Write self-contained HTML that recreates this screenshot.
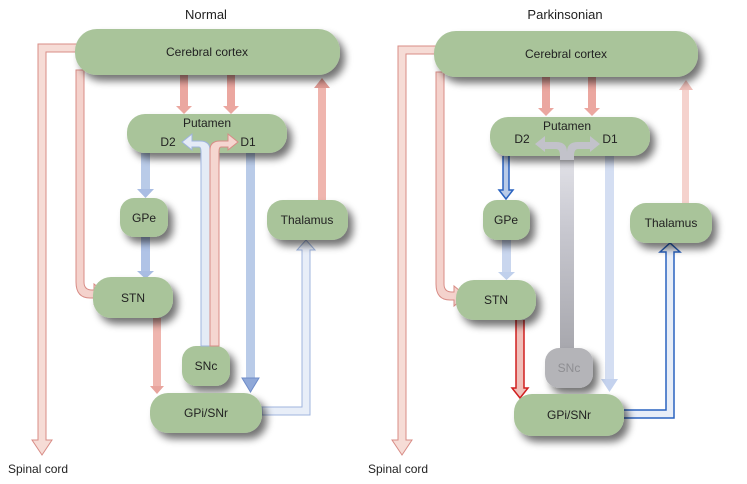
<!DOCTYPE html>
<html><head><meta charset="utf-8"><style>
html,body{margin:0;padding:0;background:#fff;}
svg{display:block;font-family:"Liberation Sans",sans-serif;}
</style></head><body>
<svg width="747" height="484" viewBox="0 0 747 484" xmlns="http://www.w3.org/2000/svg">
<defs>
<filter id="sh" x="-20%" y="-20%" width="150%" height="160%">
<feGaussianBlur in="SourceAlpha" stdDeviation="4"/><feOffset dx="5" dy="6"/>
<feComponentTransfer><feFuncA type="linear" slope="0.55"/></feComponentTransfer>
<feMerge><feMergeNode/><feMergeNode in="SourceGraphic"/></feMerge></filter>
<linearGradient id="gg" x1="0" y1="1" x2="0" y2="0">
<stop offset="0" stop-color="#a8a8ae"/><stop offset="0.6" stop-color="#c8c8d0"/><stop offset="1" stop-color="#e4e4ea"/></linearGradient>
</defs>
<g font-size="12" fill="#222">
<text x="206" y="19" font-size="13" text-anchor="middle">Normal</text>
<text x="565" y="19" font-size="13" text-anchor="middle">Parkinsonian</text>
<text x="8" y="473">Spinal cord</text>
<text x="368" y="473">Spinal cord</text>
</g>

<!-- LEFT arrows -->
<g stroke-width="1">
<path d="M80 44 H38 V440 H32 L42 455 L52 440 H46 V52 H80 Z" fill="#f6dcd6" stroke="#d88c86"/>
<path d="M84 70 V282 Q84 290 92 290 H94 V284 L106 294 L94 304 V298 H90 Q76 298 76 282 V70 Z" fill="#f4d2cc" stroke="#d88c86"/>
<rect x="180" y="75" width="8" height="33" fill="#eba7a0"/><path d="M176 106 H192 L184 114 Z" fill="#eba7a0"/>
<rect x="227" y="75" width="8" height="33" fill="#eba7a0"/><path d="M223 106 H239 L231 114 Z" fill="#eba7a0"/>
<rect x="318" y="86" width="8" height="116" fill="#efb5ae"/><path d="M314 88 H330 L322 78 Z" fill="#e09a93"/>
<rect x="141" y="153" width="9" height="38" fill="#b9cbe8"/><path d="M137 189 H154 L145.5 198 Z" fill="#a9bde3"/>
<rect x="141" y="237" width="9" height="36" fill="#b0c3e6"/><path d="M137 271 H154 L145.5 279 Z" fill="#a9bde3"/>
<rect x="246" y="153" width="9" height="227" fill="#b9cbe8"/><path d="M242 378 H259 L250.5 392 Z" fill="#8fa8d8" stroke="#6f8cc8"/>
<rect x="153" y="318" width="8" height="70" fill="#efb5ae"/><path d="M150 386 H164 L157 394 Z" fill="#e8a49d"/>
<path d="M262 407 H302 V250 H297 L306 240 L315 250 H310 V415 H262 Z" fill="#e8eef8" stroke="#9fb4de"/>
</g>

<!-- RIGHT arrows -->
<g stroke-width="1">
<path d="M440 46 H398 V440 H392 L402 455 L412 440 H406 V54 H440 Z" fill="#f6dcd6" stroke="#d88c86"/>
<path d="M444 72 V284 Q444 292 452 292 H454 V286 L466 296 L454 306 V300 H450 Q436 300 436 284 V72 Z" fill="#f4d2cc" stroke="#d88c86"/>
<rect x="542" y="77" width="8" height="33" fill="#eba7a0"/><path d="M538 108 H554 L546 116 Z" fill="#eba7a0"/>
<rect x="588" y="77" width="8" height="33" fill="#eba7a0"/><path d="M584 108 H600 L592 116 Z" fill="#eba7a0"/>
<rect x="682" y="88" width="7" height="116" fill="#f5d2cd"/><path d="M679 90 H693 L686 80 Z" fill="#efc0ba"/>
<path d="M503 156 V190 H499 L506 199 L513 190 H509 V156" fill="#b9cbe8" stroke="#2a63c0" stroke-width="1.5"/>
<rect x="502" y="240" width="9" height="34" fill="#c9d6ee"/><path d="M498 272 H515 L506.5 280 Z" fill="#c0d0ec"/>
<rect x="605" y="156" width="9" height="225" fill="#d4def2"/><path d="M601 379 H618 L609.5 392 Z" fill="#c4d2ee"/>
<rect x="560" y="150" width="14" height="198" fill="url(#gg)"/>
<path d="M516 320 V388 H512 L520 398 L528 388 H524 V320" fill="#f0c0ba" stroke="#d02020" stroke-width="1.5"/>
<path d="M624 410 H666 V252 H660 L670 243 L680 252 H674 V418 H624" fill="#e8eef8" stroke="#2a63c0" stroke-width="1.5"/>
</g>

<!-- NODES -->
<g fill="#a9c49a" filter="url(#sh)">
<rect x="75" y="29" width="265" height="46" rx="22"/>
<rect x="127" y="114" width="160" height="39" rx="18"/>
<rect x="120" y="198" width="48" height="39" rx="14"/>
<rect x="267" y="200" width="81" height="40" rx="16"/>
<rect x="93" y="277" width="80" height="41" rx="18"/>
<rect x="182" y="346" width="48" height="40" rx="14"/>
<rect x="150" y="393" width="112" height="40" rx="18"/>

<rect x="434" y="31" width="264" height="46" rx="22"/>
<rect x="490" y="117" width="160" height="39" rx="18"/>
<rect x="483" y="200" width="47" height="40" rx="14"/>
<rect x="630" y="203" width="82" height="40" rx="16"/>
<rect x="456" y="280" width="80" height="40" rx="18"/>
<rect x="545" y="348" width="48" height="40" rx="14" fill="#b4b4b8"/>
<rect x="514" y="394" width="110" height="42" rx="18"/>
</g>

<!-- SNc arrows drawn over putamen (left) -->
<g stroke-width="1">
<path d="M210 346 V150 Q210 141 200 141 H192 V134 L182 142 L192 150 V147 H199 Q201 147 201 152 V346 Z" fill="#e4ebf6" stroke="#9fb4de"/>
<path d="M210 346 V150 Q210 141 220 141 H228 V134 L238 142 L228 150 V147 H221 Q219 147 219 152 V346 Z" fill="#f5d6d0" stroke="#d88c86"/>
<rect x="210.5" y="150" width="0.1" height="196" fill="none"/>
</g>
<!-- gray arrows (right) -->
<path d="M567 160 V152 Q567 142 556 142 H545 V136 L535 144 L545 152 V149 H556 Q560 149 560 156 V160 H574 V156 Q574 149 578 149 H590 V152 L600 144 L590 136 V142 H578 Q567 142 567 152" fill="#c2c2ca"/>

<g font-size="12" fill="#222" text-anchor="middle">
<text x="207" y="56">Cerebral cortex</text>
<text x="207" y="127">Putamen</text>
<text x="168" y="146">D2</text><text x="248" y="146">D1</text>
<text x="144" y="222">GPe</text>
<text x="307" y="224">Thalamus</text>
<text x="133" y="302">STN</text>
<text x="206" y="370">SNc</text>
<text x="206" y="417">GPi/SNr</text>

<text x="566" y="58">Cerebral cortex</text>
<text x="567" y="130">Putamen</text>
<text x="522" y="143">D2</text><text x="610" y="143">D1</text>
<text x="506" y="224">GPe</text>
<text x="671" y="227">Thalamus</text>
<text x="496" y="304">STN</text>
<text x="569" y="372" fill="#8e8e92">SNc</text>
<text x="569" y="419">GPi/SNr</text>
</g>
</svg>
</body></html>
